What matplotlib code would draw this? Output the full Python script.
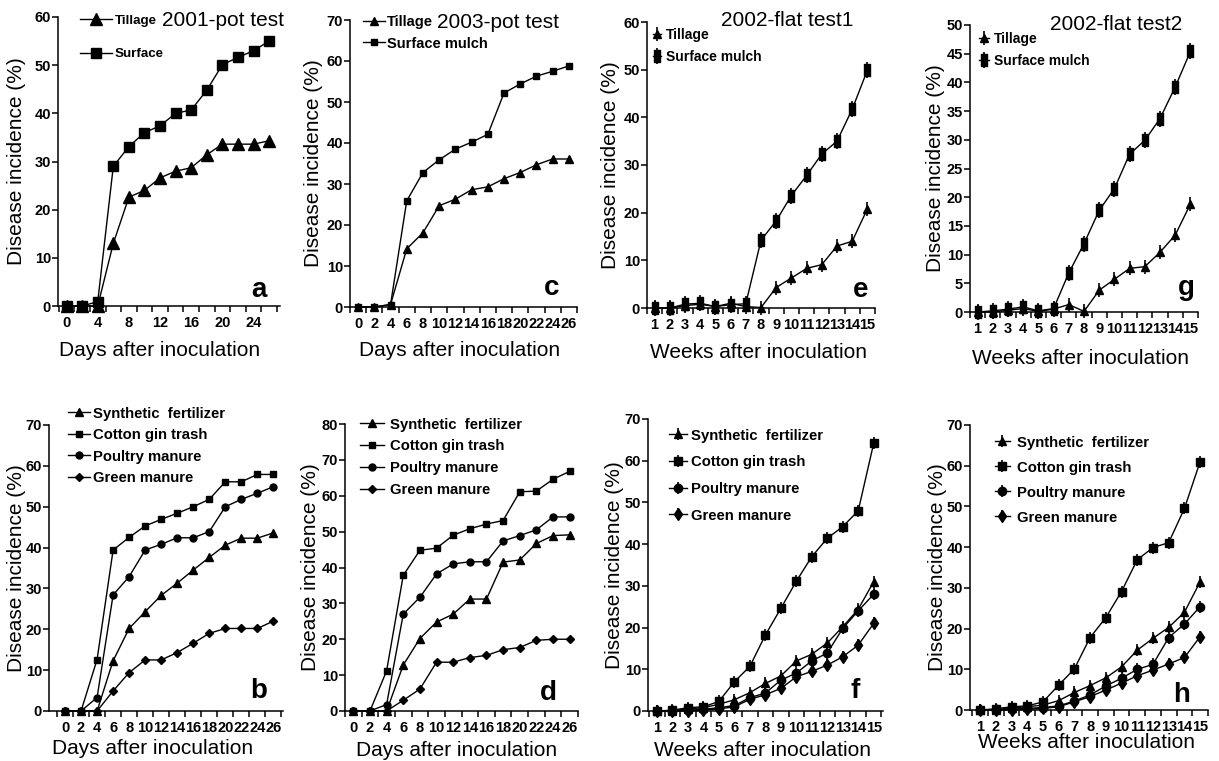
import matplotlib.pyplot as plt

plt.rcParams['font.family'] = ['Liberation Sans', 'DejaVu Sans']

W, H = 1219, 761

# --- data (disease incidence, %) ---
days = [0, 2, 4, 6, 8, 10, 12, 14, 16, 18, 20, 22, 24, 26]
weeks = [1, 2, 3, 4, 5, 6, 7, 8, 9, 10, 11, 12, 13, 14, 15]

# a: 2001 pot test
a_tillage = [0, 0, 0, 13.0, 22.6, 24.0, 26.6, 28.0, 28.7, 31.4, 33.6, 33.6, 33.6, 34.3]
a_surface = [0, 0, 0.9, 29.0, 33.1, 36.0, 37.4, 40.0, 40.7, 44.8, 50.1, 51.6, 53.0, 55.0]
# c: 2003 pot test
c_tillage = [0, 0, 0.6, 14.2, 18.1, 24.7, 26.3, 28.6, 29.3, 31.3, 32.8, 34.7, 36.1, 36.1]
c_surface = [0, 0, 0.6, 25.9, 32.8, 35.9, 38.5, 40.2, 42.1, 52.2, 54.4, 56.3, 57.5, 58.8]
# e: 2002 flat test 1
e_tillage = [0, 0, 0.5, 0.8, 0.3, 1.0, 0.3, 0.1, 4.3, 6.3, 8.3, 9.1, 13.0, 14.0, 20.8]
e_surface = [0, 0, 0.8, 1.0, 0.3, 0.7, 0.9, 14.2, 18.3, 23.6, 27.8, 32.3, 35.0, 41.7, 49.9]
# g: 2002 flat test 2
g_tillage = [0, 0, 0.3, 0.6, 0.1, 0.5, 1.3, 0.1, 3.8, 5.7, 7.6, 7.9, 10.4, 13.4, 18.8]
g_surface = [0, 0.2, 0.5, 0.9, 0.2, 0.6, 6.8, 11.9, 17.7, 21.5, 27.5, 29.9, 33.7, 39.2, 45.4]

# b: 2001 pot test, amendments
b_synth = [0, 0, 0, 12.3, 20.2, 24.3, 28.3, 31.3, 34.5, 37.6, 40.6, 42.3, 42.3, 43.6]
b_cotton = [0, 0, 12.6, 39.4, 42.5, 45.3, 46.9, 48.4, 50.0, 51.8, 56.1, 56.1, 57.9, 57.9]
b_poultry = [0, 0, 3.3, 28.4, 32.9, 39.4, 40.8, 42.4, 42.4, 43.9, 50.0, 51.8, 53.3, 54.9]
b_green = [0, 0, 0, 4.9, 9.4, 12.5, 12.5, 14.3, 16.6, 19.0, 20.2, 20.2, 20.2, 22.0]
# d: 2003 pot test, amendments
d_synth = [0, 0, 0, 12.8, 20.2, 24.8, 27.0, 31.2, 31.2, 41.5, 42.1, 46.7, 48.9, 49.1]
d_cotton = [0, 0, 11.2, 37.8, 44.8, 45.4, 49.0, 50.8, 52.1, 53.1, 61.1, 61.3, 64.6, 66.8]
d_poultry = [0, 0, 1.8, 27.0, 31.7, 38.2, 41.0, 41.6, 41.6, 47.4, 48.9, 50.5, 54.1, 54.1]
d_green = [0, 0, 0, 3.0, 6.1, 13.6, 13.6, 14.9, 15.5, 17.1, 17.7, 19.7, 20.0, 20.0]
# f: 2002 flat test 1, amendments
f_synth = [0, 0.1, 0.5, 0.8, 1.6, 2.7, 4.4, 6.6, 8.4, 12.0, 13.6, 16.3, 20.2, 24.4, 31.0]
f_cotton = [0, 0.2, 0.8, 1.0, 2.3, 7.0, 10.7, 18.2, 24.6, 31.1, 37.0, 41.4, 44.2, 48.0, 64.2]
f_poultry = [0, 0, 0.2, 0.4, 0.8, 1.3, 3.2, 4.3, 7.4, 9.1, 12.0, 13.9, 19.8, 24.0, 28.0]
f_green = [0, 0, 0, 0.2, 0.5, 1.0, 2.8, 3.9, 5.4, 8.2, 9.5, 11.0, 13.0, 15.8, 21.0]
# h: 2002 flat test 2, amendments
h_synth = [0, 0.1, 0.5, 0.8, 1.2, 2.3, 4.3, 6.0, 7.9, 10.6, 14.7, 17.6, 20.3, 24.0, 31.5]
h_cotton = [0, 0.3, 0.8, 1.0, 2.0, 6.1, 10.1, 17.8, 22.7, 29.1, 36.9, 39.9, 41.1, 49.5, 61.0]
h_poultry = [0, 0, 0.2, 0.4, 0.6, 1.0, 2.2, 3.7, 5.9, 7.8, 10.0, 11.2, 17.8, 21.1, 25.4]
h_green = [0, 0, 0, 0.2, 0.4, 0.8, 2.0, 3.3, 4.9, 6.6, 8.4, 9.8, 11.3, 12.9, 18.0]

amend_labels = ['Synthetic  fertilizer', 'Cotton gin trash', 'Poultry manure', 'Green manure']

# tall bar-like square used in the field panels
tall_rect = [(-0.5, -1), (0.5, -1), (0.5, 1), (-0.5, 1), (-0.5, -1)]

fig = plt.figure(figsize=(W / 100, H / 100), dpi=100)


def fx(x):
    return x / W


def fy(y):
    return 1 - y / H


def make_axes(box, xlim, ylim, ystep, xkind):
    left, top, right, bottom = box
    ax = fig.add_axes([fx(left), fy(bottom), (right - left) / W, (bottom - top) / H])
    ax.set_xlim(*xlim)
    ax.set_ylim(*ylim)
    for s in ['top', 'right']:
        ax.spines[s].set_visible(False)
    for s in ['left', 'bottom']:
        ax.spines[s].set_linewidth(1.1)
    yt = list(range(0, ylim[1] + 1, ystep))
    ax.set_yticks(yt, [str(v) for v in yt], fontweight='bold', fontsize=10.5)
    ax.tick_params(axis='y', length=4, width=1.1, pad=1)
    if xkind == 'days4':
        lab = [0, 4, 8, 12, 16, 20, 24]
        ax.set_xticks(lab, [str(v) for v in lab], fontweight='bold', fontsize=10.5)
        ax.set_xticks([d - 1 for d in days] + [27], minor=True)
    elif xkind == 'days2':
        ax.set_xticks(days, [str(v) for v in days], fontweight='bold', fontsize=10.5)
        ax.set_xticks([d - 1 for d in days] + [27], minor=True)
    else:
        ax.set_xticks(weeks, [str(v) for v in weeks], fontweight='bold', fontsize=10.5)
        ax.set_xticks([w - 0.5 for w in weeks] + [15.5], minor=True)
    ax.tick_params(axis='x', which='major', length=0, pad=7)
    ax.tick_params(axis='x', which='minor', length=4, width=1.1)
    return ax


def put_labels(ax, box, xlab, ylab_px, xlab_px, letter, letter_px):
    left, top, right, bottom = box
    ax.set_ylabel('Disease incidence (%)', fontsize=15)
    ax.yaxis.label.set_va('center')
    ax.yaxis.set_label_coords((ylab_px - left) / (right - left), 0.5)
    ax.set_xlabel(xlab, fontsize=15)
    ax.xaxis.label.set_va('center')
    ax.xaxis.set_label_coords((xlab_px[0] - left) / (right - left),
                              (bottom - xlab_px[1]) / (bottom - top))
    fig.text(fx(letter_px[0]), fy(letter_px[1]), letter, fontsize=20, fontweight='bold',
             ha='center', va='baseline')


def series(ax, x, y, marker, ms, bar=False, bar_ms=10):
    ln, = ax.plot(x, y, color='black', lw=1.0, marker=marker, ms=ms, mfc='black',
                  mec='black', clip_on=False, zorder=3)
    if not bar:
        return ln
    bl, = ax.plot(x, y, ls='none', marker='|', ms=bar_ms, mew=1.2, color='black',
                  clip_on=False, zorder=3)
    return (ln, bl)


def legend(ax, handles, labels, x, y, size, hl, htp, ls):
    ax.legend(handles, labels, loc='upper left', bbox_to_anchor=(fx(x), fy(y)),
              bbox_transform=fig.transFigure, frameon=False, borderpad=0,
              borderaxespad=0, handlelength=hl, handletextpad=htp, labelspacing=ls,
              prop={'weight': 'bold', 'size': size})


# ---------------- panel a ----------------
box = (58, 17, 280, 306)
ax = make_axes(box, (-1.1, 27.4), (0, 60), 10, 'days4')
h1 = series(ax, days, a_tillage, '^', 8)
h2 = series(ax, days, a_surface, 's', 7.5)
legend(ax, [h1, h2], ['Tillage', 'Surface'], 80, 14.6, 9.6, 2.4, 0.2, 1.59)
fig.text(fx(162), fy(20), '2001-pot test', fontsize=15, ha='left', va='center')
put_labels(ax, box, 'Days after inoculation', 17, (160, 350), 'a', (259, 297))

# ---------------- panel c ----------------
box = (350, 20, 577, 307)
ax = make_axes(box, (-0.75, 27), (0, 70), 10, 'days2')
h1 = series(ax, days, c_tillage, '^', 5.5)
h2 = series(ax, days, c_surface, 's', 5)
legend(ax, [h1, h2], ['Tillage', 'Surface mulch'], 363, 14.8, 10.5, 1.5, 0.15, 0.53)
fig.text(fx(437), fy(22), '2003-pot test', fontsize=15, ha='left', va='center')
put_labels(ax, box, 'Days after inoculation', 313, (460, 350), 'c', (552, 295))

# ---------------- panel e ----------------
box = (647, 22, 875, 308)
ax = make_axes(box, (0.6, 15.5), (0, 60), 10, 'weeks')
h1 = series(ax, weeks, e_tillage, '^', 6, bar=True, bar_ms=10)
h2 = series(ax, weeks, e_surface, tall_rect, 8, bar=True, bar_ms=11)
legend(ax, [h1, h2], ['Tillage', 'Surface mulch'], 653, 28.2, 10, 0.6, 0.3, 0.54)
fig.text(fx(787), fy(20), '2002-flat test1', fontsize=15, ha='center', va='center')
put_labels(ax, box, 'Weeks after inoculation', 610, (758, 352), 'e', (861, 297))

# ---------------- panel g ----------------
box = (970, 25, 1198, 312)
ax = make_axes(box, (0.5, 15.4), (0, 50), 5, 'weeks')
h1 = series(ax, weeks, g_tillage, '^', 6, bar=True, bar_ms=10)
h2 = series(ax, weeks, g_surface, tall_rect, 8, bar=True, bar_ms=11)
legend(ax, [h1, h2], ['Tillage', 'Surface mulch'], 979, 32.2, 10, 0.7, 0.4, 0.54)
fig.text(fx(1050), fy(24), '2002-flat test2', fontsize=15, ha='left', va='center')
put_labels(ax, box, 'Weeks after inoculation', 935, (1080, 358), 'g', (1186, 295))

# ---------------- panel b ----------------
box = (49, 425, 283, 711)
ax = make_axes(box, (-2, 27.2), (0, 70), 10, 'days2')
hs = [series(ax, days, b_synth, '^', 5.5),
      series(ax, days, b_cotton, 's', 5),
      series(ax, days, b_poultry, 'o', 5),
      series(ax, days, b_green, 'D', 4)]
legend(ax, hs, amend_labels, 68, 406.7, 10.7, 1.5, 0.2, 0.5)
put_labels(ax, box, 'Days after inoculation', 17, (153, 748), 'b', (259, 698))

# ---------------- panel d ----------------
box = (345, 424, 578, 711)
ax = make_axes(box, (-1, 27), (0, 80), 10, 'days2')
hs = [series(ax, days, d_synth, '^', 5.5),
      series(ax, days, d_cotton, 's', 5),
      series(ax, days, d_poultry, 'o', 5),
      series(ax, days, d_green, 'D', 4)]
legend(ax, hs, amend_labels, 360, 417.7, 10.7, 1.6, 0.4, 0.52)
put_labels(ax, box, 'Days after inoculation', 310, (457, 750), 'd', (548, 700))

# ---------------- panel f ----------------
box = (648, 419, 883, 711)
ax = make_axes(box, (0.42, 15.6), (0, 70), 10, 'weeks')
hs = [series(ax, weeks, f_synth, '^', 6, bar=True, bar_ms=9),
      series(ax, weeks, f_cotton, 's', 5.5, bar=True, bar_ms=9),
      series(ax, weeks, f_poultry, 'o', 6, bar=True, bar_ms=9),
      series(ax, weeks, f_green, 'd', 6.5, bar=True, bar_ms=9)]
legend(ax, hs, amend_labels, 669, 428.7, 10.7, 1.2, 0.3, 0.85)
put_labels(ax, box, 'Weeks after inoculation', 614, (763, 750), 'f', (855, 698))

# ---------------- panel h ----------------
box = (970, 425, 1208, 710)
ax = make_axes(box, (0.36, 15.5), (0, 70), 10, 'weeks')
hs = [series(ax, weeks, h_synth, '^', 6, bar=True, bar_ms=9),
      series(ax, weeks, h_cotton, 's', 5.5, bar=True, bar_ms=9),
      series(ax, weeks, h_poultry, 'o', 6, bar=True, bar_ms=9),
      series(ax, weeks, h_green, 'd', 6.5, bar=True, bar_ms=9)]
legend(ax, hs, amend_labels, 995, 435.7, 10.7, 1.0, 0.5, 0.74)
put_labels(ax, box, 'Weeks after inoculation', 937, (1087, 742), 'h', (1182, 702))

fig.savefig('out.png', dpi=100)
